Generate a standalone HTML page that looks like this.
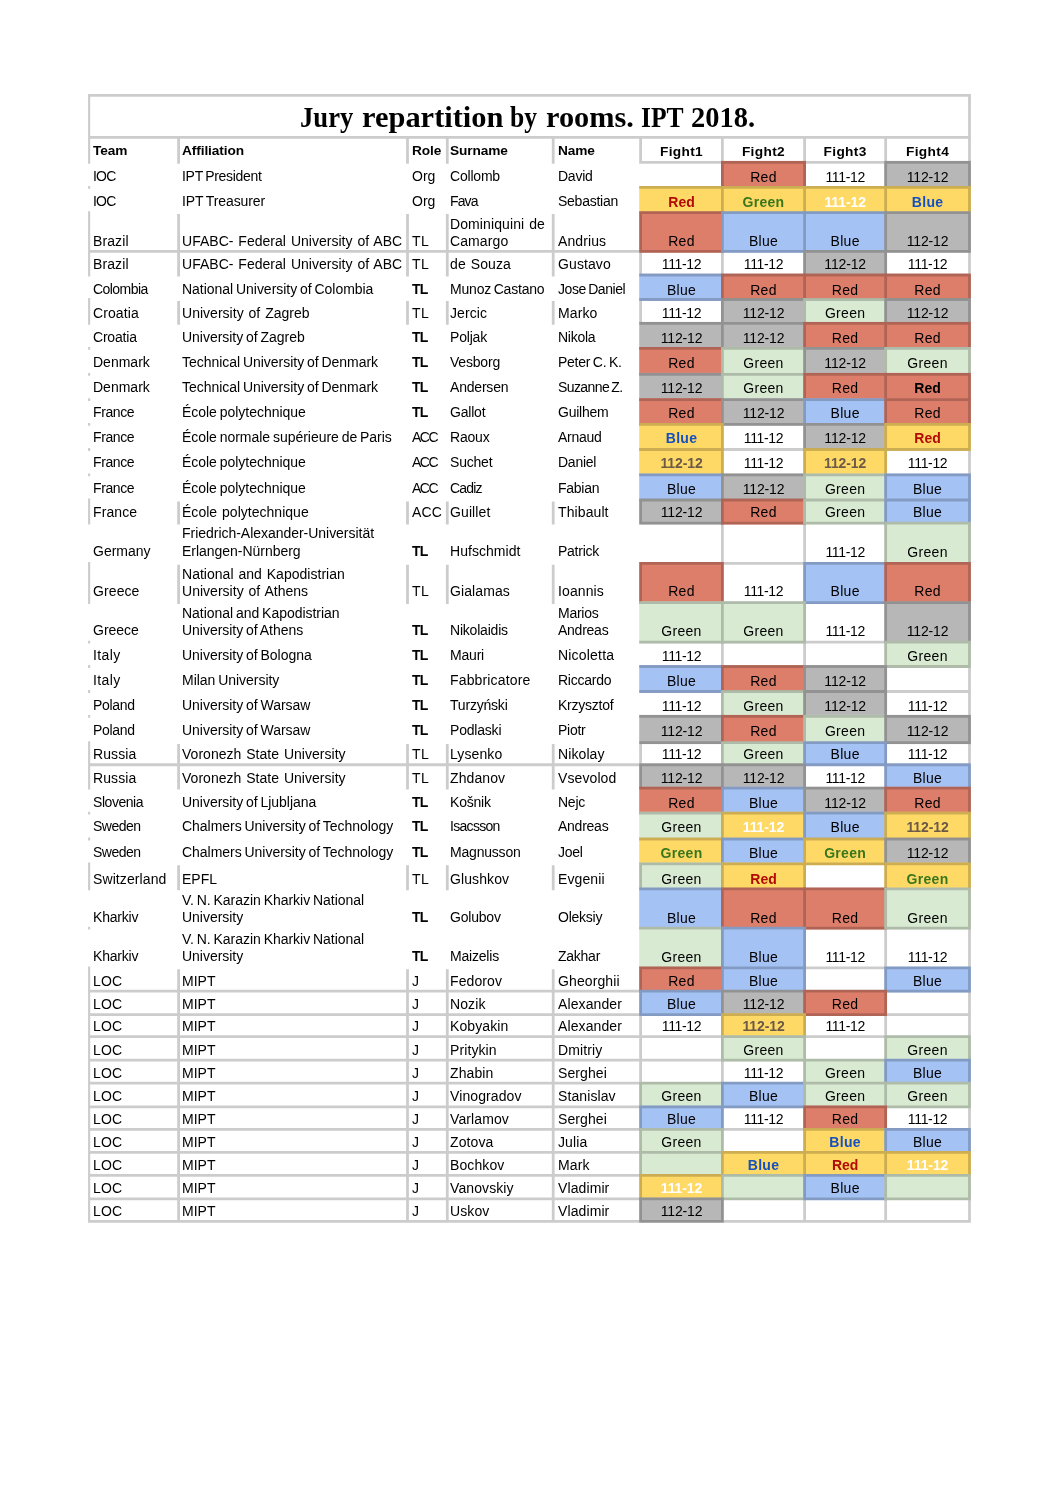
<!DOCTYPE html>
<html lang="en">
<head>
<meta charset="utf-8">
<title>Jury repartition by rooms. IPT 2018.</title>
<style>
html,body{margin:0;padding:0;background:#fff;}
body{width:1058px;height:1495px;position:relative;overflow:hidden;font-family:"Liberation Sans",sans-serif;color:#000;}
svg{position:absolute;left:0;top:0;}
#tx{position:absolute;left:0;top:0;width:1058px;height:1495px;will-change:transform;}
.t{position:absolute;white-space:nowrap;font-size:14.0px;line-height:16.0px;height:16.0px;}
.o{word-spacing:-1px;letter-spacing:-0.03px;}
.a{word-spacing:1px;letter-spacing:0.02px;}
.h{font-size:13.7px;letter-spacing:-0.1px;}
.hf{font-size:13.7px;letter-spacing:0.35px;}
.b{font-weight:bold;}
.c{text-align:center;}
.n{letter-spacing:-0.4px;}
h1{position:absolute;margin:0;left:0;width:1058px;top:99.5px;height:34px;white-space:nowrap;font-family:"Liberation Serif",serif;font-weight:bold;font-size:28.95px;line-height:34px;}
h1 span{position:absolute;top:0;display:block;transform-origin:0 0;}
</style>
</head>
<body>
<svg width="1058" height="1495" viewBox="0 0 1058 1495">
<rect x="721.00" y="160.90" width="85.00" height="27.90" fill="#dd7e6b"/>
<rect x="884.25" y="160.90" width="86.65" height="27.90" fill="#b7b7b7"/>
<rect x="639.20" y="186.00" width="84.60" height="28.05" fill="#ffd966"/>
<rect x="721.00" y="186.00" width="85.00" height="28.05" fill="#ffd966"/>
<rect x="803.20" y="186.00" width="83.85" height="28.05" fill="#ffd966"/>
<rect x="884.25" y="186.00" width="86.65" height="28.05" fill="#ffd966"/>
<rect x="639.20" y="211.25" width="84.60" height="41.55" fill="#dd7e6b"/>
<rect x="721.00" y="211.25" width="85.00" height="41.55" fill="#a4c2f4"/>
<rect x="803.20" y="211.25" width="83.85" height="41.55" fill="#a4c2f4"/>
<rect x="884.25" y="211.25" width="86.65" height="41.55" fill="#b7b7b7"/>
<rect x="803.20" y="250.00" width="83.85" height="26.40" fill="#b7b7b7"/>
<rect x="639.20" y="273.60" width="84.60" height="27.30" fill="#a4c2f4"/>
<rect x="721.00" y="273.60" width="85.00" height="27.30" fill="#dd7e6b"/>
<rect x="803.20" y="273.60" width="83.85" height="27.30" fill="#dd7e6b"/>
<rect x="884.25" y="273.60" width="86.65" height="27.30" fill="#dd7e6b"/>
<rect x="721.00" y="298.10" width="85.00" height="26.60" fill="#b7b7b7"/>
<rect x="803.20" y="298.10" width="83.85" height="26.60" fill="#d9ead3"/>
<rect x="884.25" y="298.10" width="86.65" height="26.60" fill="#b7b7b7"/>
<rect x="639.20" y="321.90" width="84.60" height="27.90" fill="#b7b7b7"/>
<rect x="721.00" y="321.90" width="85.00" height="27.90" fill="#b7b7b7"/>
<rect x="803.20" y="321.90" width="83.85" height="27.90" fill="#dd7e6b"/>
<rect x="884.25" y="321.90" width="86.65" height="27.90" fill="#dd7e6b"/>
<rect x="639.20" y="347.00" width="84.60" height="28.70" fill="#dd7e6b"/>
<rect x="721.00" y="347.00" width="85.00" height="28.70" fill="#d9ead3"/>
<rect x="803.20" y="347.00" width="83.85" height="28.70" fill="#b7b7b7"/>
<rect x="884.25" y="347.00" width="86.65" height="28.70" fill="#d9ead3"/>
<rect x="639.20" y="372.90" width="84.60" height="28.10" fill="#b7b7b7"/>
<rect x="721.00" y="372.90" width="85.00" height="28.10" fill="#d9ead3"/>
<rect x="803.20" y="372.90" width="83.85" height="28.10" fill="#dd7e6b"/>
<rect x="884.25" y="372.90" width="86.65" height="28.10" fill="#dd7e6b"/>
<rect x="639.20" y="398.20" width="84.60" height="27.60" fill="#dd7e6b"/>
<rect x="721.00" y="398.20" width="85.00" height="27.60" fill="#b7b7b7"/>
<rect x="803.20" y="398.20" width="83.85" height="27.60" fill="#a4c2f4"/>
<rect x="884.25" y="398.20" width="86.65" height="27.60" fill="#dd7e6b"/>
<rect x="639.20" y="423.00" width="84.60" height="27.90" fill="#ffd966"/>
<rect x="803.20" y="423.00" width="83.85" height="27.90" fill="#b7b7b7"/>
<rect x="884.25" y="423.00" width="86.65" height="27.90" fill="#ffd966"/>
<rect x="639.20" y="448.10" width="84.60" height="28.10" fill="#ffd966"/>
<rect x="803.20" y="448.10" width="83.85" height="28.10" fill="#ffd966"/>
<rect x="639.20" y="473.40" width="84.60" height="28.00" fill="#a4c2f4"/>
<rect x="721.00" y="473.40" width="85.00" height="28.00" fill="#b7b7b7"/>
<rect x="803.20" y="473.40" width="83.85" height="28.00" fill="#d9ead3"/>
<rect x="884.25" y="473.40" width="86.65" height="28.00" fill="#a4c2f4"/>
<rect x="639.20" y="498.60" width="84.60" height="26.00" fill="#b7b7b7"/>
<rect x="721.00" y="498.60" width="85.00" height="26.00" fill="#dd7e6b"/>
<rect x="803.20" y="498.60" width="83.85" height="26.00" fill="#d9ead3"/>
<rect x="884.25" y="498.60" width="86.65" height="26.00" fill="#a4c2f4"/>
<rect x="884.25" y="521.80" width="86.65" height="43.00" fill="#d9ead3"/>
<rect x="639.20" y="562.00" width="84.60" height="42.00" fill="#dd7e6b"/>
<rect x="803.20" y="562.00" width="83.85" height="42.00" fill="#a4c2f4"/>
<rect x="884.25" y="562.00" width="86.65" height="42.00" fill="#dd7e6b"/>
<rect x="639.20" y="601.20" width="84.60" height="42.40" fill="#d9ead3"/>
<rect x="721.00" y="601.20" width="85.00" height="42.40" fill="#d9ead3"/>
<rect x="884.25" y="601.20" width="86.65" height="42.40" fill="#b7b7b7"/>
<rect x="884.25" y="640.80" width="86.65" height="27.10" fill="#d9ead3"/>
<rect x="639.20" y="665.10" width="84.60" height="27.80" fill="#a4c2f4"/>
<rect x="721.00" y="665.10" width="85.00" height="27.80" fill="#dd7e6b"/>
<rect x="803.20" y="665.10" width="83.85" height="27.80" fill="#b7b7b7"/>
<rect x="721.00" y="690.10" width="85.00" height="27.60" fill="#d9ead3"/>
<rect x="803.20" y="690.10" width="83.85" height="27.60" fill="#b7b7b7"/>
<rect x="639.20" y="714.90" width="84.60" height="29.20" fill="#b7b7b7"/>
<rect x="721.00" y="714.90" width="85.00" height="29.20" fill="#dd7e6b"/>
<rect x="803.20" y="714.90" width="83.85" height="29.20" fill="#d9ead3"/>
<rect x="884.25" y="714.90" width="86.65" height="29.20" fill="#b7b7b7"/>
<rect x="721.00" y="741.30" width="85.00" height="24.85" fill="#d9ead3"/>
<rect x="803.20" y="741.30" width="83.85" height="24.85" fill="#a4c2f4"/>
<rect x="639.20" y="763.35" width="84.60" height="26.15" fill="#b7b7b7"/>
<rect x="721.00" y="763.35" width="85.00" height="26.15" fill="#b7b7b7"/>
<rect x="884.25" y="763.35" width="86.65" height="26.15" fill="#a4c2f4"/>
<rect x="639.20" y="786.70" width="84.60" height="27.80" fill="#dd7e6b"/>
<rect x="721.00" y="786.70" width="85.00" height="27.80" fill="#a4c2f4"/>
<rect x="803.20" y="786.70" width="83.85" height="27.80" fill="#b7b7b7"/>
<rect x="884.25" y="786.70" width="86.65" height="27.80" fill="#dd7e6b"/>
<rect x="639.20" y="811.70" width="84.60" height="28.70" fill="#d9ead3"/>
<rect x="721.00" y="811.70" width="85.00" height="28.70" fill="#ffd966"/>
<rect x="803.20" y="811.70" width="83.85" height="28.70" fill="#a4c2f4"/>
<rect x="884.25" y="811.70" width="86.65" height="28.70" fill="#ffd966"/>
<rect x="639.20" y="837.60" width="84.60" height="27.60" fill="#ffd966"/>
<rect x="721.00" y="837.60" width="85.00" height="27.60" fill="#a4c2f4"/>
<rect x="803.20" y="837.60" width="83.85" height="27.60" fill="#ffd966"/>
<rect x="884.25" y="837.60" width="86.65" height="27.60" fill="#b7b7b7"/>
<rect x="639.20" y="862.40" width="84.60" height="27.90" fill="#d9ead3"/>
<rect x="721.00" y="862.40" width="85.00" height="27.90" fill="#ffd966"/>
<rect x="884.25" y="862.40" width="86.65" height="27.90" fill="#ffd966"/>
<rect x="639.20" y="887.50" width="84.60" height="42.10" fill="#a4c2f4"/>
<rect x="721.00" y="887.50" width="85.00" height="42.10" fill="#dd7e6b"/>
<rect x="803.20" y="887.50" width="83.85" height="42.10" fill="#dd7e6b"/>
<rect x="884.25" y="887.50" width="86.65" height="42.10" fill="#d9ead3"/>
<rect x="639.20" y="926.80" width="84.60" height="42.50" fill="#d9ead3"/>
<rect x="721.00" y="926.80" width="85.00" height="42.50" fill="#a4c2f4"/>
<rect x="639.20" y="966.50" width="84.60" height="26.10" fill="#dd7e6b"/>
<rect x="721.00" y="966.50" width="85.00" height="26.10" fill="#a4c2f4"/>
<rect x="884.25" y="966.50" width="86.65" height="26.10" fill="#a4c2f4"/>
<rect x="639.20" y="989.80" width="84.60" height="26.20" fill="#a4c2f4"/>
<rect x="721.00" y="989.80" width="85.00" height="26.20" fill="#b7b7b7"/>
<rect x="803.20" y="989.80" width="83.85" height="26.20" fill="#dd7e6b"/>
<rect x="721.00" y="1013.20" width="85.00" height="24.85" fill="#ffd966"/>
<rect x="721.00" y="1035.25" width="85.00" height="26.35" fill="#d9ead3"/>
<rect x="884.25" y="1035.25" width="86.65" height="26.35" fill="#d9ead3"/>
<rect x="803.20" y="1058.80" width="83.85" height="25.80" fill="#d9ead3"/>
<rect x="884.25" y="1058.80" width="86.65" height="25.80" fill="#a4c2f4"/>
<rect x="639.20" y="1081.80" width="84.60" height="26.45" fill="#d9ead3"/>
<rect x="721.00" y="1081.80" width="85.00" height="26.45" fill="#a4c2f4"/>
<rect x="803.20" y="1081.80" width="83.85" height="26.45" fill="#d9ead3"/>
<rect x="884.25" y="1081.80" width="86.65" height="26.45" fill="#d9ead3"/>
<rect x="639.20" y="1105.45" width="84.60" height="25.35" fill="#a4c2f4"/>
<rect x="803.20" y="1105.45" width="83.85" height="25.35" fill="#dd7e6b"/>
<rect x="639.20" y="1128.00" width="84.60" height="25.80" fill="#d9ead3"/>
<rect x="803.20" y="1128.00" width="83.85" height="25.80" fill="#ffd966"/>
<rect x="884.25" y="1128.00" width="86.65" height="25.80" fill="#a4c2f4"/>
<rect x="639.20" y="1151.00" width="84.60" height="25.85" fill="#d9ead3"/>
<rect x="721.00" y="1151.00" width="85.00" height="25.85" fill="#ffd966"/>
<rect x="803.20" y="1151.00" width="83.85" height="25.85" fill="#ffd966"/>
<rect x="884.25" y="1151.00" width="86.65" height="25.85" fill="#ffd966"/>
<rect x="639.20" y="1174.05" width="84.60" height="26.15" fill="#ffd966"/>
<rect x="721.00" y="1174.05" width="85.00" height="26.15" fill="#d9ead3"/>
<rect x="803.20" y="1174.05" width="83.85" height="26.15" fill="#a4c2f4"/>
<rect x="884.25" y="1174.05" width="86.65" height="26.15" fill="#d9ead3"/>
<rect x="639.20" y="1197.40" width="84.60" height="25.30" fill="#b7b7b7"/>
<path d="M88.06 94.00h882.84v2.80h-882.84zM88.06 136.00h882.84v2.80h-882.84zM88.06 94.00h2.15v44.80h-2.15zM968.10 94.00h2.80v44.80h-2.80zM721.00 136.00h2.80v1086.70h-2.80zM803.20 136.00h2.80v1086.70h-2.80zM884.25 136.00h2.80v1086.70h-2.80zM968.10 136.00h2.80v1086.70h-2.80zM639.20 160.90h331.70v2.80h-331.70zM639.20 186.00h331.70v2.80h-331.70zM639.20 211.25h331.70v2.80h-331.70zM639.20 250.00h331.70v2.80h-331.70zM639.20 273.60h331.70v2.80h-331.70zM639.20 298.10h331.70v2.80h-331.70zM639.20 321.90h331.70v2.80h-331.70zM639.20 347.00h331.70v2.80h-331.70zM639.20 372.90h331.70v2.80h-331.70zM639.20 398.20h331.70v2.80h-331.70zM639.20 423.00h331.70v2.80h-331.70zM639.20 448.10h331.70v2.80h-331.70zM639.20 473.40h331.70v2.80h-331.70zM639.20 498.60h331.70v2.80h-331.70zM639.20 521.80h331.70v2.80h-331.70zM639.20 562.00h331.70v2.80h-331.70zM639.20 601.20h331.70v2.80h-331.70zM639.20 640.80h331.70v2.80h-331.70zM639.20 665.10h331.70v2.80h-331.70zM639.20 690.10h331.70v2.80h-331.70zM639.20 714.90h331.70v2.80h-331.70zM639.20 741.30h331.70v2.80h-331.70zM639.20 763.35h331.70v2.80h-331.70zM639.20 786.70h331.70v2.80h-331.70zM639.20 811.70h331.70v2.80h-331.70zM639.20 837.60h331.70v2.80h-331.70zM639.20 862.40h331.70v2.80h-331.70zM639.20 887.50h331.70v2.80h-331.70zM639.20 926.80h331.70v2.80h-331.70zM639.20 966.50h331.70v2.80h-331.70zM639.20 989.80h331.70v2.80h-331.70zM639.20 1013.20h331.70v2.80h-331.70zM639.20 1035.25h331.70v2.80h-331.70zM639.20 1058.80h331.70v2.80h-331.70zM639.20 1081.80h331.70v2.80h-331.70zM639.20 1105.45h331.70v2.80h-331.70zM639.20 1128.00h331.70v2.80h-331.70zM639.20 1151.00h331.70v2.80h-331.70zM639.20 1174.05h331.70v2.80h-331.70zM639.20 1197.40h331.70v2.80h-331.70zM639.20 1219.90h331.70v2.80h-331.70zM88.06 136.00h2.15v27.70h-2.15zM177.20 136.00h2.80v27.70h-2.80zM406.10 136.00h2.80v27.70h-2.80zM445.90 136.00h2.80v27.70h-2.80zM551.80 136.00h2.80v27.70h-2.80zM639.20 136.00h2.80v27.70h-2.80zM88.06 186.00h2.15v2.80h-2.15zM88.06 211.25h2.15v2.80h-2.15zM88.06 214.05h2.15v38.75h-2.15zM177.20 214.05h2.80v38.75h-2.80zM406.10 214.05h2.80v38.75h-2.80zM445.90 214.05h2.80v38.75h-2.80zM551.80 214.05h2.80v38.75h-2.80zM639.20 214.05h2.80v38.75h-2.80zM88.06 250.00h551.14v2.80h-551.14zM88.06 250.00h2.15v26.40h-2.15zM177.20 250.00h2.80v26.40h-2.80zM406.10 250.00h2.80v26.40h-2.80zM445.90 250.00h2.80v26.40h-2.80zM551.80 250.00h2.80v26.40h-2.80zM639.20 250.00h2.80v26.40h-2.80zM88.06 298.10h2.15v2.80h-2.15zM88.06 300.90h2.15v23.80h-2.15zM177.20 300.90h2.80v23.80h-2.80zM406.10 300.90h2.80v23.80h-2.80zM445.90 300.90h2.80v23.80h-2.80zM551.80 300.90h2.80v23.80h-2.80zM639.20 300.90h2.80v23.80h-2.80zM88.06 347.00h2.15v2.80h-2.15zM88.06 372.90h2.15v2.80h-2.15zM88.06 398.20h2.15v2.80h-2.15zM88.06 423.00h2.15v2.80h-2.15zM88.06 448.10h2.15v2.80h-2.15zM88.06 473.40h2.15v2.80h-2.15zM88.06 498.60h2.15v2.80h-2.15zM88.06 501.40h2.15v23.20h-2.15zM177.20 501.40h2.80v23.20h-2.80zM406.10 501.40h2.80v23.20h-2.80zM445.90 501.40h2.80v23.20h-2.80zM551.80 501.40h2.80v23.20h-2.80zM639.20 501.40h2.80v23.20h-2.80zM88.06 562.00h2.15v2.80h-2.15zM88.06 564.80h2.15v39.20h-2.15zM177.20 564.80h2.80v39.20h-2.80zM406.10 564.80h2.80v39.20h-2.80zM445.90 564.80h2.80v39.20h-2.80zM551.80 564.80h2.80v39.20h-2.80zM639.20 564.80h2.80v39.20h-2.80zM88.06 640.80h2.15v2.80h-2.15zM88.06 665.10h2.15v2.80h-2.15zM88.06 690.10h2.15v2.80h-2.15zM88.06 714.90h2.15v2.80h-2.15zM88.06 741.30h2.15v2.80h-2.15zM88.06 744.10h2.15v22.05h-2.15zM177.20 744.10h2.80v22.05h-2.80zM406.10 744.10h2.80v22.05h-2.80zM445.90 744.10h2.80v22.05h-2.80zM551.80 744.10h2.80v22.05h-2.80zM639.20 744.10h2.80v22.05h-2.80zM88.06 763.35h551.14v2.80h-551.14zM88.06 763.35h2.15v26.15h-2.15zM177.20 763.35h2.80v26.15h-2.80zM406.10 763.35h2.80v26.15h-2.80zM445.90 763.35h2.80v26.15h-2.80zM551.80 763.35h2.80v26.15h-2.80zM639.20 763.35h2.80v26.15h-2.80zM88.06 811.70h2.15v2.80h-2.15zM88.06 837.60h2.15v2.80h-2.15zM88.06 862.40h2.15v2.80h-2.15zM88.06 865.20h2.15v25.10h-2.15zM177.20 865.20h2.80v25.10h-2.80zM406.10 865.20h2.80v25.10h-2.80zM445.90 865.20h2.80v25.10h-2.80zM551.80 865.20h2.80v25.10h-2.80zM639.20 865.20h2.80v25.10h-2.80zM88.06 926.80h2.15v2.80h-2.15zM88.06 966.50h2.15v2.80h-2.15zM88.06 969.30h2.15v23.30h-2.15zM177.20 969.30h2.80v23.30h-2.80zM406.10 969.30h2.80v23.30h-2.80zM445.90 969.30h2.80v23.30h-2.80zM551.80 969.30h2.80v23.30h-2.80zM639.20 969.30h2.80v23.30h-2.80zM88.06 989.80h551.14v2.80h-551.14zM88.06 989.80h2.15v26.20h-2.15zM177.20 989.80h2.80v26.20h-2.80zM406.10 989.80h2.80v26.20h-2.80zM445.90 989.80h2.80v26.20h-2.80zM551.80 989.80h2.80v26.20h-2.80zM639.20 989.80h2.80v26.20h-2.80zM88.06 1013.20h551.14v2.80h-551.14zM88.06 1013.20h2.15v24.85h-2.15zM177.20 1013.20h2.80v24.85h-2.80zM406.10 1013.20h2.80v24.85h-2.80zM445.90 1013.20h2.80v24.85h-2.80zM551.80 1013.20h2.80v24.85h-2.80zM639.20 1013.20h2.80v24.85h-2.80zM88.06 1035.25h551.14v2.80h-551.14zM88.06 1035.25h2.15v26.35h-2.15zM177.20 1035.25h2.80v26.35h-2.80zM406.10 1035.25h2.80v26.35h-2.80zM445.90 1035.25h2.80v26.35h-2.80zM551.80 1035.25h2.80v26.35h-2.80zM639.20 1035.25h2.80v26.35h-2.80zM88.06 1058.80h551.14v2.80h-551.14zM88.06 1058.80h2.15v25.80h-2.15zM177.20 1058.80h2.80v25.80h-2.80zM406.10 1058.80h2.80v25.80h-2.80zM445.90 1058.80h2.80v25.80h-2.80zM551.80 1058.80h2.80v25.80h-2.80zM639.20 1058.80h2.80v25.80h-2.80zM88.06 1081.80h551.14v2.80h-551.14zM88.06 1081.80h2.15v26.45h-2.15zM177.20 1081.80h2.80v26.45h-2.80zM406.10 1081.80h2.80v26.45h-2.80zM445.90 1081.80h2.80v26.45h-2.80zM551.80 1081.80h2.80v26.45h-2.80zM639.20 1081.80h2.80v26.45h-2.80zM88.06 1105.45h551.14v2.80h-551.14zM88.06 1105.45h2.15v25.35h-2.15zM177.20 1105.45h2.80v25.35h-2.80zM406.10 1105.45h2.80v25.35h-2.80zM445.90 1105.45h2.80v25.35h-2.80zM551.80 1105.45h2.80v25.35h-2.80zM639.20 1105.45h2.80v25.35h-2.80zM88.06 1128.00h551.14v2.80h-551.14zM88.06 1128.00h2.15v25.80h-2.15zM177.20 1128.00h2.80v25.80h-2.80zM406.10 1128.00h2.80v25.80h-2.80zM445.90 1128.00h2.80v25.80h-2.80zM551.80 1128.00h2.80v25.80h-2.80zM639.20 1128.00h2.80v25.80h-2.80zM88.06 1151.00h551.14v2.80h-551.14zM88.06 1151.00h2.15v25.85h-2.15zM177.20 1151.00h2.80v25.85h-2.80zM406.10 1151.00h2.80v25.85h-2.80zM445.90 1151.00h2.80v25.85h-2.80zM551.80 1151.00h2.80v25.85h-2.80zM639.20 1151.00h2.80v25.85h-2.80zM88.06 1174.05h551.14v2.80h-551.14zM88.06 1174.05h2.15v26.15h-2.15zM177.20 1174.05h2.80v26.15h-2.80zM406.10 1174.05h2.80v26.15h-2.80zM445.90 1174.05h2.80v26.15h-2.80zM551.80 1174.05h2.80v26.15h-2.80zM639.20 1174.05h2.80v26.15h-2.80zM88.06 1197.40h551.14v2.80h-551.14zM88.06 1197.40h2.15v25.30h-2.15zM177.20 1197.40h2.80v25.30h-2.80zM406.10 1197.40h2.80v25.30h-2.80zM445.90 1197.40h2.80v25.30h-2.80zM551.80 1197.40h2.80v25.30h-2.80zM639.20 1197.40h2.80v25.30h-2.80zM88.06 1219.90h551.14v2.80h-551.14z" fill="#000" fill-opacity="0.2" fill-rule="nonzero"/>
</svg>
<div id="tx">
<h1 id="title"><span style="left:299.60px;transform:scaleX(0.9210)">Jury</span> <span style="left:362.00px;transform:scaleX(1.0520)">repartition</span> <span style="left:509.70px;transform:scaleX(0.8820)">by</span> <span style="left:545.50px;transform:scaleX(1.0480)">rooms.</span> <span style="left:640.50px;transform:scaleX(0.8840)">IPT</span> <span style="left:691.00px;transform:scaleX(0.9830)">2018.</span></h1>
<div class="t h b" style="left:93.00px;top:143px;">Team</div>
<div class="t h b" style="left:182.00px;top:143px;">Affiliation</div>
<div class="t h b" style="left:412.00px;top:143px;">Role</div>
<div class="t h b" style="left:450.00px;top:143px;">Surname</div>
<div class="t h b" style="left:558.00px;top:143px;">Name</div>
<div class="t hf b c" style="left:642.00px;top:144px;width:79.00px;">Fight1</div>
<div class="t hf b c" style="left:723.80px;top:144px;width:79.40px;">Fight2</div>
<div class="t hf b c" style="left:806.00px;top:144px;width:78.25px;">Fight3</div>
<div class="t hf b c" style="left:887.05px;top:144px;width:81.05px;">Fight4</div>
<div class="t o" style="left:93.00px;top:168px;letter-spacing:-0.8px;">IOC</div>
<div class="t o" style="left:182.00px;top:168px;letter-spacing:-0.3px;">IPT President</div>
<div class="t o" style="left:412.00px;top:168px;letter-spacing:0px;">Org</div>
<div class="t o" style="left:450.00px;top:168px;letter-spacing:-0.2px;">Collomb</div>
<div class="t o" style="left:558.00px;top:168px;letter-spacing:-0.25px;">David</div>
<div class="t c" style="left:723.80px;top:169px;width:79.40px;letter-spacing:0.3px;">Red</div>
<div class="t c" style="left:806.00px;top:169px;width:78.25px;letter-spacing:-0.35px;">111-12</div>
<div class="t c" style="left:887.05px;top:169px;width:81.05px;letter-spacing:-0.15px;">112-12</div>
<div class="t o" style="left:93.00px;top:193px;letter-spacing:-0.8px;">IOC</div>
<div class="t o" style="left:182.00px;top:193px;letter-spacing:-0.1px;">IPT Treasurer</div>
<div class="t o" style="left:412.00px;top:193px;letter-spacing:0px;">Org</div>
<div class="t o" style="left:450.00px;top:193px;letter-spacing:-0.9px;">Fava</div>
<div class="t o" style="left:558.00px;top:193px;letter-spacing:-0.25px;">Sebastian</div>
<div class="t c b" style="left:642.00px;top:194px;width:79.00px;color:#b20a04;">Red</div>
<div class="t c b" style="left:723.80px;top:194px;width:79.40px;color:#38761d;letter-spacing:0.3px;">Green</div>
<div class="t c b" style="left:806.00px;top:194px;width:78.25px;color:#ffffff;letter-spacing:-0.1px;">111-12</div>
<div class="t c b" style="left:887.05px;top:194px;width:81.05px;color:#1450c0;letter-spacing:0.3px;">Blue</div>
<div class="t a" style="left:93.00px;top:233px;letter-spacing:0.1px;">Brazil</div>
<div class="t a" style="left:182.00px;top:233px;">UFABC- Federal University of ABC</div>
<div class="t a" style="left:412.00px;top:233px;letter-spacing:0.5px;">TL</div>
<div class="t a" style="left:450.00px;top:216px;letter-spacing:0.1px;">Dominiquini de</div>
<div class="t a" style="left:450.00px;top:233px;letter-spacing:0.1px;">Camargo</div>
<div class="t a" style="left:558.00px;top:233px;letter-spacing:0.1px;">Andrius</div>
<div class="t c" style="left:642.00px;top:233px;width:79.00px;letter-spacing:0.3px;">Red</div>
<div class="t c" style="left:723.80px;top:233px;width:79.40px;letter-spacing:0.3px;">Blue</div>
<div class="t c" style="left:806.00px;top:233px;width:78.25px;letter-spacing:0.3px;">Blue</div>
<div class="t c" style="left:887.05px;top:233px;width:81.05px;letter-spacing:-0.15px;">112-12</div>
<div class="t a" style="left:93.00px;top:256px;letter-spacing:0.1px;">Brazil</div>
<div class="t a" style="left:182.00px;top:256px;">UFABC- Federal University of ABC</div>
<div class="t a" style="left:412.00px;top:256px;letter-spacing:0.5px;">TL</div>
<div class="t a" style="left:450.00px;top:256px;letter-spacing:0.1px;">de Souza</div>
<div class="t a" style="left:558.00px;top:256px;letter-spacing:0.1px;">Gustavo</div>
<div class="t c" style="left:642.00px;top:256px;width:79.00px;letter-spacing:-0.35px;">111-12</div>
<div class="t c" style="left:723.80px;top:256px;width:79.40px;letter-spacing:-0.35px;">111-12</div>
<div class="t c" style="left:806.00px;top:256px;width:78.25px;letter-spacing:-0.15px;">112-12</div>
<div class="t c" style="left:887.05px;top:256px;width:81.05px;letter-spacing:-0.35px;">111-12</div>
<div class="t o" style="left:93.00px;top:281px;letter-spacing:-0.55px;">Colombia</div>
<div class="t o" style="left:182.00px;top:281px;">National University of Colombia</div>
<div class="t o b" style="left:412.00px;top:281px;letter-spacing:-0.9px;">TL</div>
<div class="t o" style="left:450.00px;top:281px;letter-spacing:-0.2px;">Munoz Castano</div>
<div class="t o" style="left:558.00px;top:281px;letter-spacing:-0.45px;">Jose Daniel</div>
<div class="t c" style="left:642.00px;top:282px;width:79.00px;letter-spacing:0.3px;">Blue</div>
<div class="t c" style="left:723.80px;top:282px;width:79.40px;letter-spacing:0.3px;">Red</div>
<div class="t c" style="left:806.00px;top:282px;width:78.25px;letter-spacing:0.3px;">Red</div>
<div class="t c" style="left:887.05px;top:282px;width:81.05px;letter-spacing:0.3px;">Red</div>
<div class="t a" style="left:93.00px;top:305px;letter-spacing:0.1px;">Croatia</div>
<div class="t a" style="left:182.00px;top:305px;">University of Zagreb</div>
<div class="t a" style="left:412.00px;top:305px;letter-spacing:0.5px;">TL</div>
<div class="t a" style="left:450.00px;top:305px;letter-spacing:0.1px;">Jercic</div>
<div class="t a" style="left:558.00px;top:305px;letter-spacing:0.1px;">Marko</div>
<div class="t c" style="left:642.00px;top:305px;width:79.00px;letter-spacing:-0.35px;">111-12</div>
<div class="t c" style="left:723.80px;top:305px;width:79.40px;letter-spacing:-0.15px;">112-12</div>
<div class="t c" style="left:806.00px;top:305px;width:78.25px;letter-spacing:0.3px;">Green</div>
<div class="t c" style="left:887.05px;top:305px;width:81.05px;letter-spacing:-0.15px;">112-12</div>
<div class="t o" style="left:93.00px;top:329px;letter-spacing:-0.2px;">Croatia</div>
<div class="t o" style="left:182.00px;top:329px;">University of Zagreb</div>
<div class="t o b" style="left:412.00px;top:329px;letter-spacing:-0.9px;">TL</div>
<div class="t o" style="left:450.00px;top:329px;letter-spacing:-0.2px;">Poljak</div>
<div class="t o" style="left:558.00px;top:329px;letter-spacing:-0.25px;">Nikola</div>
<div class="t c" style="left:642.00px;top:330px;width:79.00px;letter-spacing:-0.15px;">112-12</div>
<div class="t c" style="left:723.80px;top:330px;width:79.40px;letter-spacing:-0.15px;">112-12</div>
<div class="t c" style="left:806.00px;top:330px;width:78.25px;letter-spacing:0.3px;">Red</div>
<div class="t c" style="left:887.05px;top:330px;width:81.05px;letter-spacing:0.3px;">Red</div>
<div class="t o" style="left:93.00px;top:354px;letter-spacing:0px;">Denmark</div>
<div class="t o" style="left:182.00px;top:354px;">Technical University of Denmark</div>
<div class="t o b" style="left:412.00px;top:354px;letter-spacing:-0.9px;">TL</div>
<div class="t o" style="left:450.00px;top:354px;letter-spacing:-0.2px;">Vesborg</div>
<div class="t o" style="left:558.00px;top:354px;letter-spacing:-0.25px;">Peter C. K.</div>
<div class="t c" style="left:642.00px;top:355px;width:79.00px;letter-spacing:0.3px;">Red</div>
<div class="t c" style="left:723.80px;top:355px;width:79.40px;letter-spacing:0.3px;">Green</div>
<div class="t c" style="left:806.00px;top:355px;width:78.25px;letter-spacing:-0.15px;">112-12</div>
<div class="t c" style="left:887.05px;top:355px;width:81.05px;letter-spacing:0.3px;">Green</div>
<div class="t o" style="left:93.00px;top:379px;letter-spacing:0px;">Denmark</div>
<div class="t o" style="left:182.00px;top:379px;">Technical University of Denmark</div>
<div class="t o b" style="left:412.00px;top:379px;letter-spacing:-0.9px;">TL</div>
<div class="t o" style="left:450.00px;top:379px;letter-spacing:-0.2px;">Andersen</div>
<div class="t o" style="left:558.00px;top:379px;letter-spacing:-0.6px;">Suzanne Z.</div>
<div class="t c" style="left:642.00px;top:380px;width:79.00px;letter-spacing:-0.15px;">112-12</div>
<div class="t c" style="left:723.80px;top:380px;width:79.40px;letter-spacing:0.3px;">Green</div>
<div class="t c" style="left:806.00px;top:380px;width:78.25px;letter-spacing:0.3px;">Red</div>
<div class="t c b" style="left:887.05px;top:380px;width:81.05px;">Red</div>
<div class="t o" style="left:93.00px;top:404px;letter-spacing:-0.4px;">France</div>
<div class="t o" style="left:182.00px;top:404px;">École polytechnique</div>
<div class="t o b" style="left:412.00px;top:404px;letter-spacing:-0.9px;">TL</div>
<div class="t o" style="left:450.00px;top:404px;letter-spacing:-0.2px;">Gallot</div>
<div class="t o" style="left:558.00px;top:404px;letter-spacing:-0.25px;">Guilhem</div>
<div class="t c" style="left:642.00px;top:405px;width:79.00px;letter-spacing:0.3px;">Red</div>
<div class="t c" style="left:723.80px;top:405px;width:79.40px;letter-spacing:-0.15px;">112-12</div>
<div class="t c" style="left:806.00px;top:405px;width:78.25px;letter-spacing:0.3px;">Blue</div>
<div class="t c" style="left:887.05px;top:405px;width:81.05px;letter-spacing:0.3px;">Red</div>
<div class="t o" style="left:93.00px;top:429px;letter-spacing:-0.4px;">France</div>
<div class="t o" style="left:182.00px;top:429px;">École normale supérieure de Paris</div>
<div class="t o" style="left:412.00px;top:429px;letter-spacing:-1.5px;">ACC</div>
<div class="t o" style="left:450.00px;top:429px;letter-spacing:-0.2px;">Raoux</div>
<div class="t o" style="left:558.00px;top:429px;letter-spacing:-0.25px;">Arnaud</div>
<div class="t c b" style="left:642.00px;top:430px;width:79.00px;color:#1450c0;letter-spacing:0.3px;">Blue</div>
<div class="t c" style="left:723.80px;top:430px;width:79.40px;letter-spacing:-0.35px;">111-12</div>
<div class="t c" style="left:806.00px;top:430px;width:78.25px;letter-spacing:-0.15px;">112-12</div>
<div class="t c b" style="left:887.05px;top:430px;width:81.05px;color:#b20a04;">Red</div>
<div class="t o" style="left:93.00px;top:454px;letter-spacing:-0.4px;">France</div>
<div class="t o" style="left:182.00px;top:454px;">École polytechnique</div>
<div class="t o" style="left:412.00px;top:454px;letter-spacing:-1.5px;">ACC</div>
<div class="t o" style="left:450.00px;top:454px;letter-spacing:-0.2px;">Suchet</div>
<div class="t o" style="left:558.00px;top:454px;letter-spacing:-0.25px;">Daniel</div>
<div class="t c b" style="left:642.00px;top:455px;width:79.00px;color:#6b5a47;letter-spacing:-0.1px;">112-12</div>
<div class="t c" style="left:723.80px;top:455px;width:79.40px;letter-spacing:-0.35px;">111-12</div>
<div class="t c b" style="left:806.00px;top:455px;width:78.25px;color:#6b5a47;letter-spacing:-0.1px;">112-12</div>
<div class="t c" style="left:887.05px;top:455px;width:81.05px;letter-spacing:-0.35px;">111-12</div>
<div class="t o" style="left:93.00px;top:480px;letter-spacing:-0.4px;">France</div>
<div class="t o" style="left:182.00px;top:480px;">École polytechnique</div>
<div class="t o" style="left:412.00px;top:480px;letter-spacing:-1.5px;">ACC</div>
<div class="t o" style="left:450.00px;top:480px;letter-spacing:-0.8px;">Cadiz</div>
<div class="t o" style="left:558.00px;top:480px;letter-spacing:-0.25px;">Fabian</div>
<div class="t c" style="left:642.00px;top:481px;width:79.00px;letter-spacing:0.3px;">Blue</div>
<div class="t c" style="left:723.80px;top:481px;width:79.40px;letter-spacing:-0.15px;">112-12</div>
<div class="t c" style="left:806.00px;top:481px;width:78.25px;letter-spacing:0.3px;">Green</div>
<div class="t c" style="left:887.05px;top:481px;width:81.05px;letter-spacing:0.3px;">Blue</div>
<div class="t a" style="left:93.00px;top:504px;letter-spacing:0.1px;">France</div>
<div class="t a" style="left:182.00px;top:504px;">École polytechnique</div>
<div class="t a" style="left:412.00px;top:504px;letter-spacing:0.1px;">ACC</div>
<div class="t a" style="left:450.00px;top:504px;letter-spacing:0.1px;">Guillet</div>
<div class="t a" style="left:558.00px;top:504px;letter-spacing:0.1px;">Thibault</div>
<div class="t c" style="left:642.00px;top:504px;width:79.00px;letter-spacing:-0.15px;">112-12</div>
<div class="t c" style="left:723.80px;top:504px;width:79.40px;letter-spacing:0.3px;">Red</div>
<div class="t c" style="left:806.00px;top:504px;width:78.25px;letter-spacing:0.3px;">Green</div>
<div class="t c" style="left:887.05px;top:504px;width:81.05px;letter-spacing:0.3px;">Blue</div>
<div class="t o" style="left:93.00px;top:543px;letter-spacing:0px;">Germany</div>
<div class="t o" style="left:182.00px;top:525px;">Friedrich-Alexander-Universität</div>
<div class="t o" style="left:182.00px;top:543px;">Erlangen-Nürnberg</div>
<div class="t o b" style="left:412.00px;top:543px;letter-spacing:-0.9px;">TL</div>
<div class="t o" style="left:450.00px;top:543px;letter-spacing:0.05px;">Hufschmidt</div>
<div class="t o" style="left:558.00px;top:543px;letter-spacing:-0.25px;">Patrick</div>
<div class="t c" style="left:806.00px;top:544px;width:78.25px;letter-spacing:-0.35px;">111-12</div>
<div class="t c" style="left:887.05px;top:544px;width:81.05px;letter-spacing:0.3px;">Green</div>
<div class="t a" style="left:93.00px;top:583px;letter-spacing:0.1px;">Greece</div>
<div class="t a" style="left:182.00px;top:566px;">National and Kapodistrian</div>
<div class="t a" style="left:182.00px;top:583px;">University of Athens</div>
<div class="t a" style="left:412.00px;top:583px;letter-spacing:0.5px;">TL</div>
<div class="t a" style="left:450.00px;top:583px;letter-spacing:0.1px;">Gialamas</div>
<div class="t a" style="left:558.00px;top:583px;letter-spacing:0.1px;">Ioannis</div>
<div class="t c" style="left:642.00px;top:583px;width:79.00px;letter-spacing:0.3px;">Red</div>
<div class="t c" style="left:723.80px;top:583px;width:79.40px;letter-spacing:-0.35px;">111-12</div>
<div class="t c" style="left:806.00px;top:583px;width:78.25px;letter-spacing:0.3px;">Blue</div>
<div class="t c" style="left:887.05px;top:583px;width:81.05px;letter-spacing:0.3px;">Red</div>
<div class="t o" style="left:93.00px;top:622px;letter-spacing:0px;">Greece</div>
<div class="t o" style="left:182.00px;top:605px;">National and Kapodistrian</div>
<div class="t o" style="left:182.00px;top:622px;">University of Athens</div>
<div class="t o b" style="left:412.00px;top:622px;letter-spacing:-0.9px;">TL</div>
<div class="t o" style="left:450.00px;top:622px;letter-spacing:-0.2px;">Nikolaidis</div>
<div class="t o" style="left:558.00px;top:605px;letter-spacing:-0.25px;">Marios</div>
<div class="t o" style="left:558.00px;top:622px;letter-spacing:-0.25px;">Andreas</div>
<div class="t c" style="left:642.00px;top:623px;width:79.00px;letter-spacing:0.3px;">Green</div>
<div class="t c" style="left:723.80px;top:623px;width:79.40px;letter-spacing:0.3px;">Green</div>
<div class="t c" style="left:806.00px;top:623px;width:78.25px;letter-spacing:-0.35px;">111-12</div>
<div class="t c" style="left:887.05px;top:623px;width:81.05px;letter-spacing:-0.15px;">112-12</div>
<div class="t o" style="left:93.00px;top:647px;letter-spacing:0.4px;">Italy</div>
<div class="t o" style="left:182.00px;top:647px;">University of Bologna</div>
<div class="t o b" style="left:412.00px;top:647px;letter-spacing:-0.9px;">TL</div>
<div class="t o" style="left:450.00px;top:647px;letter-spacing:-0.2px;">Mauri</div>
<div class="t o" style="left:558.00px;top:647px;letter-spacing:0.2px;">Nicoletta</div>
<div class="t c" style="left:642.00px;top:648px;width:79.00px;letter-spacing:-0.35px;">111-12</div>
<div class="t c" style="left:887.05px;top:648px;width:81.05px;letter-spacing:0.3px;">Green</div>
<div class="t o" style="left:93.00px;top:672px;letter-spacing:0.4px;">Italy</div>
<div class="t o" style="left:182.00px;top:672px;">Milan University</div>
<div class="t o b" style="left:412.00px;top:672px;letter-spacing:-0.9px;">TL</div>
<div class="t o" style="left:450.00px;top:672px;letter-spacing:0.15px;">Fabbricatore</div>
<div class="t o" style="left:558.00px;top:672px;letter-spacing:-0.25px;">Riccardo</div>
<div class="t c" style="left:642.00px;top:673px;width:79.00px;letter-spacing:0.3px;">Blue</div>
<div class="t c" style="left:723.80px;top:673px;width:79.40px;letter-spacing:0.3px;">Red</div>
<div class="t c" style="left:806.00px;top:673px;width:78.25px;letter-spacing:-0.15px;">112-12</div>
<div class="t o" style="left:93.00px;top:697px;letter-spacing:-0.3px;">Poland</div>
<div class="t o" style="left:182.00px;top:697px;">University of Warsaw</div>
<div class="t o b" style="left:412.00px;top:697px;letter-spacing:-0.9px;">TL</div>
<div class="t o" style="left:450.00px;top:697px;letter-spacing:-0.2px;">Turzyński</div>
<div class="t o" style="left:558.00px;top:697px;letter-spacing:-0.25px;">Krzysztof</div>
<div class="t c" style="left:642.00px;top:698px;width:79.00px;letter-spacing:-0.35px;">111-12</div>
<div class="t c" style="left:723.80px;top:698px;width:79.40px;letter-spacing:0.3px;">Green</div>
<div class="t c" style="left:806.00px;top:698px;width:78.25px;letter-spacing:-0.15px;">112-12</div>
<div class="t c" style="left:887.05px;top:698px;width:81.05px;letter-spacing:-0.35px;">111-12</div>
<div class="t o" style="left:93.00px;top:722px;letter-spacing:-0.3px;">Poland</div>
<div class="t o" style="left:182.00px;top:722px;">University of Warsaw</div>
<div class="t o b" style="left:412.00px;top:722px;letter-spacing:-0.9px;">TL</div>
<div class="t o" style="left:450.00px;top:722px;letter-spacing:-0.2px;">Podlaski</div>
<div class="t o" style="left:558.00px;top:722px;letter-spacing:-0.25px;">Piotr</div>
<div class="t c" style="left:642.00px;top:723px;width:79.00px;letter-spacing:-0.15px;">112-12</div>
<div class="t c" style="left:723.80px;top:723px;width:79.40px;letter-spacing:0.3px;">Red</div>
<div class="t c" style="left:806.00px;top:723px;width:78.25px;letter-spacing:0.3px;">Green</div>
<div class="t c" style="left:887.05px;top:723px;width:81.05px;letter-spacing:-0.15px;">112-12</div>
<div class="t a" style="left:93.00px;top:746px;letter-spacing:0.1px;">Russia</div>
<div class="t a" style="left:182.00px;top:746px;">Voronezh State University</div>
<div class="t a" style="left:412.00px;top:746px;letter-spacing:0.5px;">TL</div>
<div class="t a" style="left:450.00px;top:746px;letter-spacing:0.1px;">Lysenko</div>
<div class="t a" style="left:558.00px;top:746px;letter-spacing:0.1px;">Nikolay</div>
<div class="t c" style="left:642.00px;top:746px;width:79.00px;letter-spacing:-0.35px;">111-12</div>
<div class="t c" style="left:723.80px;top:746px;width:79.40px;letter-spacing:0.3px;">Green</div>
<div class="t c" style="left:806.00px;top:746px;width:78.25px;letter-spacing:0.3px;">Blue</div>
<div class="t c" style="left:887.05px;top:746px;width:81.05px;letter-spacing:-0.35px;">111-12</div>
<div class="t a" style="left:93.00px;top:770px;letter-spacing:0.1px;">Russia</div>
<div class="t a" style="left:182.00px;top:770px;">Voronezh State University</div>
<div class="t a" style="left:412.00px;top:770px;letter-spacing:0.5px;">TL</div>
<div class="t a" style="left:450.00px;top:770px;letter-spacing:0.1px;">Zhdanov</div>
<div class="t a" style="left:558.00px;top:770px;letter-spacing:0.1px;">Vsevolod</div>
<div class="t c" style="left:642.00px;top:770px;width:79.00px;letter-spacing:-0.15px;">112-12</div>
<div class="t c" style="left:723.80px;top:770px;width:79.40px;letter-spacing:-0.15px;">112-12</div>
<div class="t c" style="left:806.00px;top:770px;width:78.25px;letter-spacing:-0.35px;">111-12</div>
<div class="t c" style="left:887.05px;top:770px;width:81.05px;letter-spacing:0.3px;">Blue</div>
<div class="t o" style="left:93.00px;top:794px;letter-spacing:-0.45px;">Slovenia</div>
<div class="t o" style="left:182.00px;top:794px;">University of Ljubljana</div>
<div class="t o b" style="left:412.00px;top:794px;letter-spacing:-0.9px;">TL</div>
<div class="t o" style="left:450.00px;top:794px;letter-spacing:-0.2px;">Košnik</div>
<div class="t o" style="left:558.00px;top:794px;letter-spacing:-0.25px;">Nejc</div>
<div class="t c" style="left:642.00px;top:795px;width:79.00px;letter-spacing:0.3px;">Red</div>
<div class="t c" style="left:723.80px;top:795px;width:79.40px;letter-spacing:0.3px;">Blue</div>
<div class="t c" style="left:806.00px;top:795px;width:78.25px;letter-spacing:-0.15px;">112-12</div>
<div class="t c" style="left:887.05px;top:795px;width:81.05px;letter-spacing:0.3px;">Red</div>
<div class="t o" style="left:93.00px;top:818px;letter-spacing:-0.5px;">Sweden</div>
<div class="t o" style="left:182.00px;top:818px;">Chalmers University of Technology</div>
<div class="t o b" style="left:412.00px;top:818px;letter-spacing:-0.9px;">TL</div>
<div class="t o" style="left:450.00px;top:818px;letter-spacing:-0.7px;">Isacsson</div>
<div class="t o" style="left:558.00px;top:818px;letter-spacing:-0.25px;">Andreas</div>
<div class="t c" style="left:642.00px;top:819px;width:79.00px;letter-spacing:0.3px;">Green</div>
<div class="t c b" style="left:723.80px;top:819px;width:79.40px;color:#ffffff;letter-spacing:-0.1px;">111-12</div>
<div class="t c" style="left:806.00px;top:819px;width:78.25px;letter-spacing:0.3px;">Blue</div>
<div class="t c b" style="left:887.05px;top:819px;width:81.05px;color:#6b5a47;letter-spacing:-0.1px;">112-12</div>
<div class="t o" style="left:93.00px;top:844px;letter-spacing:-0.5px;">Sweden</div>
<div class="t o" style="left:182.00px;top:844px;">Chalmers University of Technology</div>
<div class="t o b" style="left:412.00px;top:844px;letter-spacing:-0.9px;">TL</div>
<div class="t o" style="left:450.00px;top:844px;letter-spacing:-0.2px;">Magnusson</div>
<div class="t o" style="left:558.00px;top:844px;letter-spacing:-0.25px;">Joel</div>
<div class="t c b" style="left:642.00px;top:845px;width:79.00px;color:#38761d;letter-spacing:0.3px;">Green</div>
<div class="t c" style="left:723.80px;top:845px;width:79.40px;letter-spacing:0.3px;">Blue</div>
<div class="t c b" style="left:806.00px;top:845px;width:78.25px;color:#38761d;letter-spacing:0.3px;">Green</div>
<div class="t c" style="left:887.05px;top:845px;width:81.05px;letter-spacing:-0.15px;">112-12</div>
<div class="t a" style="left:93.00px;top:871px;letter-spacing:0.1px;">Switzerland</div>
<div class="t a" style="left:182.00px;top:871px;">EPFL</div>
<div class="t a" style="left:412.00px;top:871px;letter-spacing:0.5px;">TL</div>
<div class="t a" style="left:450.00px;top:871px;letter-spacing:0.1px;">Glushkov</div>
<div class="t a" style="left:558.00px;top:871px;letter-spacing:0.1px;">Evgenii</div>
<div class="t c" style="left:642.00px;top:871px;width:79.00px;letter-spacing:0.3px;">Green</div>
<div class="t c b" style="left:723.80px;top:871px;width:79.40px;color:#b20a04;">Red</div>
<div class="t c b" style="left:887.05px;top:871px;width:81.05px;color:#38761d;letter-spacing:0.3px;">Green</div>
<div class="t o" style="left:93.00px;top:909px;letter-spacing:-0.2px;">Kharkiv</div>
<div class="t o" style="left:182.00px;top:892px;">V. N. Karazin Kharkiv National</div>
<div class="t o" style="left:182.00px;top:909px;">University</div>
<div class="t o b" style="left:412.00px;top:909px;letter-spacing:-0.9px;">TL</div>
<div class="t o" style="left:450.00px;top:909px;letter-spacing:-0.2px;">Golubov</div>
<div class="t o" style="left:558.00px;top:909px;letter-spacing:-0.25px;">Oleksiy</div>
<div class="t c" style="left:642.00px;top:910px;width:79.00px;letter-spacing:0.3px;">Blue</div>
<div class="t c" style="left:723.80px;top:910px;width:79.40px;letter-spacing:0.3px;">Red</div>
<div class="t c" style="left:806.00px;top:910px;width:78.25px;letter-spacing:0.3px;">Red</div>
<div class="t c" style="left:887.05px;top:910px;width:81.05px;letter-spacing:0.3px;">Green</div>
<div class="t o" style="left:93.00px;top:948px;letter-spacing:-0.2px;">Kharkiv</div>
<div class="t o" style="left:182.00px;top:931px;">V. N. Karazin Kharkiv National</div>
<div class="t o" style="left:182.00px;top:948px;">University</div>
<div class="t o b" style="left:412.00px;top:948px;letter-spacing:-0.9px;">TL</div>
<div class="t o" style="left:450.00px;top:948px;letter-spacing:-0.2px;">Maizelis</div>
<div class="t o" style="left:558.00px;top:948px;letter-spacing:-0.25px;">Zakhar</div>
<div class="t c" style="left:642.00px;top:949px;width:79.00px;letter-spacing:0.3px;">Green</div>
<div class="t c" style="left:723.80px;top:949px;width:79.40px;letter-spacing:0.3px;">Blue</div>
<div class="t c" style="left:806.00px;top:949px;width:78.25px;letter-spacing:-0.35px;">111-12</div>
<div class="t c" style="left:887.05px;top:949px;width:81.05px;letter-spacing:-0.35px;">111-12</div>
<div class="t a" style="left:93.00px;top:973px;letter-spacing:0.1px;">LOC</div>
<div class="t a" style="left:182.00px;top:973px;">MIPT</div>
<div class="t a" style="left:412.00px;top:973px;letter-spacing:0.1px;">J</div>
<div class="t a" style="left:450.00px;top:973px;letter-spacing:0.1px;">Fedorov</div>
<div class="t a" style="left:558.00px;top:973px;letter-spacing:0.1px;">Gheorghii</div>
<div class="t c" style="left:642.00px;top:973px;width:79.00px;letter-spacing:0.3px;">Red</div>
<div class="t c" style="left:723.80px;top:973px;width:79.40px;letter-spacing:0.3px;">Blue</div>
<div class="t c" style="left:887.05px;top:973px;width:81.05px;letter-spacing:0.3px;">Blue</div>
<div class="t a" style="left:93.00px;top:996px;letter-spacing:0.1px;">LOC</div>
<div class="t a" style="left:182.00px;top:996px;">MIPT</div>
<div class="t a" style="left:412.00px;top:996px;letter-spacing:0.1px;">J</div>
<div class="t a" style="left:450.00px;top:996px;letter-spacing:0.1px;">Nozik</div>
<div class="t a" style="left:558.00px;top:996px;letter-spacing:0.1px;">Alexander</div>
<div class="t c" style="left:642.00px;top:996px;width:79.00px;letter-spacing:0.3px;">Blue</div>
<div class="t c" style="left:723.80px;top:996px;width:79.40px;letter-spacing:-0.15px;">112-12</div>
<div class="t c" style="left:806.00px;top:996px;width:78.25px;letter-spacing:0.3px;">Red</div>
<div class="t a" style="left:93.00px;top:1018px;letter-spacing:0.1px;">LOC</div>
<div class="t a" style="left:182.00px;top:1018px;">MIPT</div>
<div class="t a" style="left:412.00px;top:1018px;letter-spacing:0.1px;">J</div>
<div class="t a" style="left:450.00px;top:1018px;letter-spacing:0.1px;">Kobyakin</div>
<div class="t a" style="left:558.00px;top:1018px;letter-spacing:0.1px;">Alexander</div>
<div class="t c" style="left:642.00px;top:1018px;width:79.00px;letter-spacing:-0.35px;">111-12</div>
<div class="t c b" style="left:723.80px;top:1018px;width:79.40px;color:#6b5a47;letter-spacing:-0.1px;">112-12</div>
<div class="t c" style="left:806.00px;top:1018px;width:78.25px;letter-spacing:-0.35px;">111-12</div>
<div class="t a" style="left:93.00px;top:1042px;letter-spacing:0.1px;">LOC</div>
<div class="t a" style="left:182.00px;top:1042px;">MIPT</div>
<div class="t a" style="left:412.00px;top:1042px;letter-spacing:0.1px;">J</div>
<div class="t a" style="left:450.00px;top:1042px;letter-spacing:0.1px;">Pritykin</div>
<div class="t a" style="left:558.00px;top:1042px;letter-spacing:0.1px;">Dmitriy</div>
<div class="t c" style="left:723.80px;top:1042px;width:79.40px;letter-spacing:0.3px;">Green</div>
<div class="t c" style="left:887.05px;top:1042px;width:81.05px;letter-spacing:0.3px;">Green</div>
<div class="t a" style="left:93.00px;top:1065px;letter-spacing:0.1px;">LOC</div>
<div class="t a" style="left:182.00px;top:1065px;">MIPT</div>
<div class="t a" style="left:412.00px;top:1065px;letter-spacing:0.1px;">J</div>
<div class="t a" style="left:450.00px;top:1065px;letter-spacing:0.1px;">Zhabin</div>
<div class="t a" style="left:558.00px;top:1065px;letter-spacing:0.1px;">Serghei</div>
<div class="t c" style="left:723.80px;top:1065px;width:79.40px;letter-spacing:-0.35px;">111-12</div>
<div class="t c" style="left:806.00px;top:1065px;width:78.25px;letter-spacing:0.3px;">Green</div>
<div class="t c" style="left:887.05px;top:1065px;width:81.05px;letter-spacing:0.3px;">Blue</div>
<div class="t a" style="left:93.00px;top:1088px;letter-spacing:0.1px;">LOC</div>
<div class="t a" style="left:182.00px;top:1088px;">MIPT</div>
<div class="t a" style="left:412.00px;top:1088px;letter-spacing:0.1px;">J</div>
<div class="t a" style="left:450.00px;top:1088px;letter-spacing:0.1px;">Vinogradov</div>
<div class="t a" style="left:558.00px;top:1088px;letter-spacing:0.1px;">Stanislav</div>
<div class="t c" style="left:642.00px;top:1088px;width:79.00px;letter-spacing:0.3px;">Green</div>
<div class="t c" style="left:723.80px;top:1088px;width:79.40px;letter-spacing:0.3px;">Blue</div>
<div class="t c" style="left:806.00px;top:1088px;width:78.25px;letter-spacing:0.3px;">Green</div>
<div class="t c" style="left:887.05px;top:1088px;width:81.05px;letter-spacing:0.3px;">Green</div>
<div class="t a" style="left:93.00px;top:1111px;letter-spacing:0.1px;">LOC</div>
<div class="t a" style="left:182.00px;top:1111px;">MIPT</div>
<div class="t a" style="left:412.00px;top:1111px;letter-spacing:0.1px;">J</div>
<div class="t a" style="left:450.00px;top:1111px;letter-spacing:0.1px;">Varlamov</div>
<div class="t a" style="left:558.00px;top:1111px;letter-spacing:0.1px;">Serghei</div>
<div class="t c" style="left:642.00px;top:1111px;width:79.00px;letter-spacing:0.3px;">Blue</div>
<div class="t c" style="left:723.80px;top:1111px;width:79.40px;letter-spacing:-0.35px;">111-12</div>
<div class="t c" style="left:806.00px;top:1111px;width:78.25px;letter-spacing:0.3px;">Red</div>
<div class="t c" style="left:887.05px;top:1111px;width:81.05px;letter-spacing:-0.35px;">111-12</div>
<div class="t a" style="left:93.00px;top:1134px;letter-spacing:0.1px;">LOC</div>
<div class="t a" style="left:182.00px;top:1134px;">MIPT</div>
<div class="t a" style="left:412.00px;top:1134px;letter-spacing:0.1px;">J</div>
<div class="t a" style="left:450.00px;top:1134px;letter-spacing:0.1px;">Zotova</div>
<div class="t a" style="left:558.00px;top:1134px;letter-spacing:0.1px;">Julia</div>
<div class="t c" style="left:642.00px;top:1134px;width:79.00px;letter-spacing:0.3px;">Green</div>
<div class="t c b" style="left:806.00px;top:1134px;width:78.25px;color:#1450c0;letter-spacing:0.3px;">Blue</div>
<div class="t c" style="left:887.05px;top:1134px;width:81.05px;letter-spacing:0.3px;">Blue</div>
<div class="t a" style="left:93.00px;top:1157px;letter-spacing:0.1px;">LOC</div>
<div class="t a" style="left:182.00px;top:1157px;">MIPT</div>
<div class="t a" style="left:412.00px;top:1157px;letter-spacing:0.1px;">J</div>
<div class="t a" style="left:450.00px;top:1157px;letter-spacing:0.1px;">Bochkov</div>
<div class="t a" style="left:558.00px;top:1157px;letter-spacing:0.1px;">Mark</div>
<div class="t c b" style="left:723.80px;top:1157px;width:79.40px;color:#1450c0;letter-spacing:0.3px;">Blue</div>
<div class="t c b" style="left:806.00px;top:1157px;width:78.25px;color:#b20a04;">Red</div>
<div class="t c b" style="left:887.05px;top:1157px;width:81.05px;color:#ffffff;letter-spacing:-0.1px;">111-12</div>
<div class="t a" style="left:93.00px;top:1180px;letter-spacing:0.1px;">LOC</div>
<div class="t a" style="left:182.00px;top:1180px;">MIPT</div>
<div class="t a" style="left:412.00px;top:1180px;letter-spacing:0.1px;">J</div>
<div class="t a" style="left:450.00px;top:1180px;letter-spacing:0.1px;">Vanovskiy</div>
<div class="t a" style="left:558.00px;top:1180px;letter-spacing:0.1px;">Vladimir</div>
<div class="t c b" style="left:642.00px;top:1180px;width:79.00px;color:#ffffff;letter-spacing:-0.1px;">111-12</div>
<div class="t c" style="left:806.00px;top:1180px;width:78.25px;letter-spacing:0.3px;">Blue</div>
<div class="t a" style="left:93.00px;top:1203px;letter-spacing:0.1px;">LOC</div>
<div class="t a" style="left:182.00px;top:1203px;">MIPT</div>
<div class="t a" style="left:412.00px;top:1203px;letter-spacing:0.1px;">J</div>
<div class="t a" style="left:450.00px;top:1203px;letter-spacing:0.1px;">Uskov</div>
<div class="t a" style="left:558.00px;top:1203px;letter-spacing:0.1px;">Vladimir</div>
<div class="t c" style="left:642.00px;top:1203px;width:79.00px;letter-spacing:-0.15px;">112-12</div>
</div>
</body>
</html>
